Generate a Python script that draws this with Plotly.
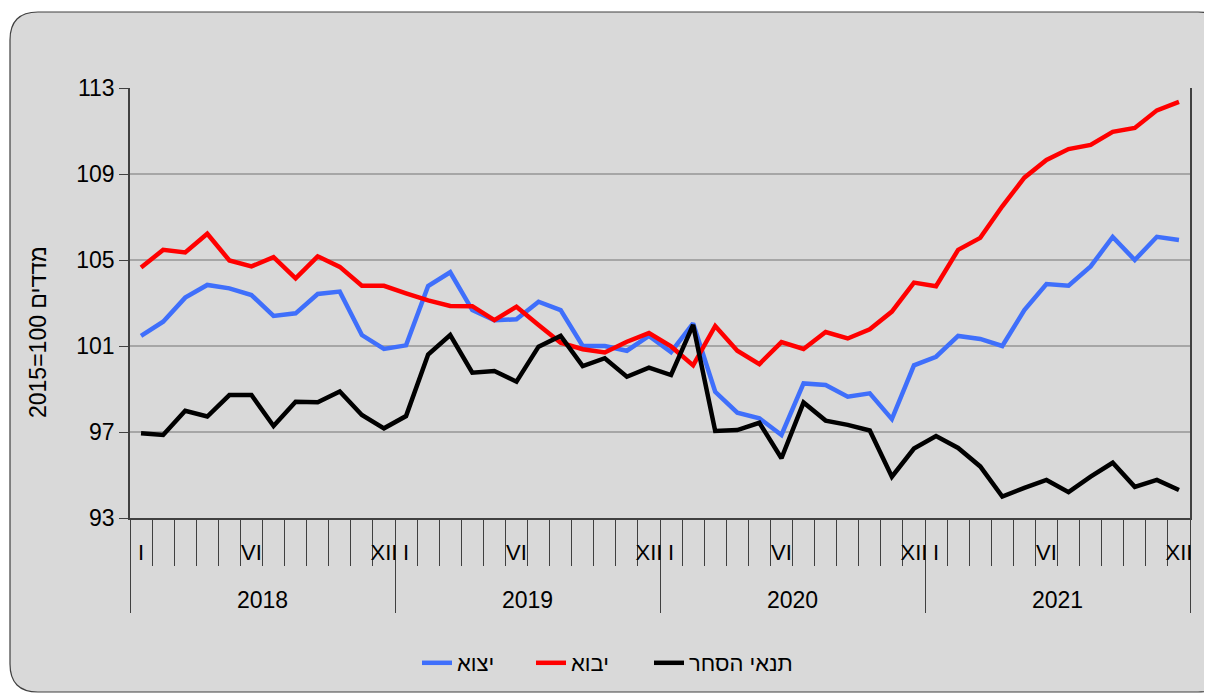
import plotly.graph_objects as go

years = ["2018", "2019", "2020", "2021"]
month_labels = ["I", "", "", "", "", "VI", "", "", "", "", "", "XII"]

exports = [101.47, 102.13, 103.25, 103.84, 103.68, 103.37, 102.40, 102.52, 103.42, 103.53, 101.51, 100.86,
           101.03, 103.79, 104.43, 102.67, 102.20, 102.24, 103.06, 102.67, 101.00, 101.00, 100.78, 101.47,
           100.72, 102.05, 98.87, 97.90, 97.64, 96.86, 99.26, 99.19, 98.64, 98.80, 97.60, 100.10,
           100.50, 101.47, 101.33, 101.00, 102.67, 103.88, 103.80, 104.70, 106.07, 105.00, 106.08, 105.93]
imports = [104.65, 105.47, 105.35, 106.22, 104.98, 104.70, 105.13, 104.15, 105.17, 104.68, 103.80, 103.80,
           103.45, 103.12, 102.86, 102.85, 102.20, 102.83, 101.98, 101.15, 100.85, 100.70, 101.20, 101.60,
           100.98, 100.10, 101.93, 100.78, 100.16, 101.18, 100.86, 101.65, 101.35, 101.78, 102.60, 103.95,
           103.78, 105.47, 106.03, 107.50, 108.83, 109.65, 110.16, 110.35, 110.96, 111.14, 111.96, 112.35]
terms = [96.94, 96.86, 97.99, 97.72, 98.72, 98.72, 97.28, 98.41, 98.38, 98.88, 97.79, 97.17,
         97.74, 100.60, 101.51, 99.76, 99.84, 99.34, 100.97, 101.47, 100.07, 100.43, 99.57, 99.99,
         99.65, 101.98, 97.05, 97.09, 97.43, 95.78, 98.37, 97.53, 97.33, 97.07, 94.92, 96.23,
         96.81, 96.26, 95.40, 94.00, 94.40, 94.77, 94.20, 94.92, 95.57, 94.45, 94.77, 94.30]

series_names = ["יצוא", "יבוא", "תנאי הסחר"]
series_colors = ["#3f6ffb", "#ff0000", "#000000"]
y_title = "2015=100 מדדים"
y_ticks = [93, 97, 101, 105, 109, 113]

n = len(exports)
x = list(range(n))
n_m = len(month_labels)

W, H = 1212, 695
OFF = 8  # page body offset
ml, mt = 130 - OFF, 88 - OFF
pw, ph = 1060, 430
mr, mb = W - ml - pw, H - mt - ph


def py(page_y):
    return (mt + ph - (page_y - OFF)) / ph


def px(page_x):
    return (page_x - OFF - ml) / pw


font = "Liberation Sans, Arial, sans-serif"
legend_ids = ["legend", "legend2", "legend3"]
legend_left = [417, 531, 649]

fig = go.Figure()
for vals, name, col, lid in zip([exports, imports, terms], series_names, series_colors, legend_ids):
    fig.add_trace(go.Scatter(x=x, y=vals, mode="lines", name=name, legend=lid,
                             line=dict(color=col, width=4.5)))

xr = [-0.5, n - 0.5]

month_bounds = [i - 0.5 for i in range(n + 1)]
year_bounds = [i * n_m - 0.5 for i in range(len(years) + 1)]
label_pos = [yi * n_m + mi for yi in range(len(years)) for mi in range(n_m) if month_labels[mi]]
label_txt = [month_labels[mi] for yi in range(len(years)) for mi in range(n_m) if month_labels[mi]]

legend_layout = {}
for lid, lx in zip(legend_ids, legend_left):
    legend_layout[lid] = dict(orientation="h", x=px(lx), xanchor="left", y=py(663), yanchor="middle",
                              font=dict(size=22, family=font), bgcolor="rgba(0,0,0,0)")

fig.update_layout(
    width=W, height=H,
    margin=dict(l=ml, r=mr, t=mt, b=mb, autoexpand=False),
    paper_bgcolor="white", plot_bgcolor="white",
    font=dict(family=font, color="#000000", size=21),
    showlegend=True,
    **legend_layout,
    xaxis=dict(range=xr, tickmode="array", tickvals=month_bounds, ticktext=["" for _ in month_bounds],
               ticks="outside", ticklen=46, tickwidth=1.2, tickcolor="#404040",
               showline=True, linecolor="#404040", linewidth=1.5, showgrid=False, zeroline=False),
    xaxis2=dict(range=xr, overlaying="x", side="bottom", tickmode="array", tickvals=year_bounds,
                ticktext=["" for _ in year_bounds], ticks="outside", ticklen=94, tickwidth=1.3,
                tickcolor="#404040", showgrid=False, zeroline=False, showline=False),
    xaxis3=dict(range=xr, overlaying="x", side="bottom", tickmode="array", tickvals=label_pos,
                ticktext=label_txt, ticks="outside", ticklen=15, tickcolor="rgba(0,0,0,0)",
                tickfont=dict(size=22, family=font, color="#000000"),
                showgrid=False, zeroline=False, showline=False),
    yaxis=dict(range=[93, 113], tickmode="array", tickvals=y_ticks, ticks="outside", ticklen=9,
               tickcolor="#404040", tickfont=dict(size=23, family=font),
               showline=True, linecolor="#404040", linewidth=1.5, mirror=True,
               showgrid=True, gridcolor="#a6a6a6", gridwidth=1.5, zeroline=False),
)

fig.add_trace(go.Scatter(x=[xr[0]], y=[93], xaxis="x2", mode="markers", marker=dict(opacity=0),
                         showlegend=False, hoverinfo="skip"))
fig.add_trace(go.Scatter(x=[xr[0]], y=[93], xaxis="x3", mode="markers", marker=dict(opacity=0),
                         showlegend=False, hoverinfo="skip"))

for i, yr in enumerate(years):
    fig.add_annotation(x=i * n_m + (n_m - 1) / 2, y=py(600), xref="x", yref="paper",
                       text=yr, showarrow=False, font=dict(size=23, family=font), yanchor="middle")

fig.add_annotation(x=px(38), y=py(332), xref="paper", yref="paper", text=y_title, textangle=-90,
                   showarrow=False, font=dict(size=23, family=font), xanchor="center", yanchor="middle")

x0, x1 = px(10), px(1226)
y0, y1 = py(692), py(12)
rx, ry = 28 / pw, 28 / ph
path = (f"M {x0 + rx} {y1} L {x1 - rx} {y1} Q {x1} {y1} {x1} {y1 - ry} "
        f"L {x1} {y0 + ry} Q {x1} {y0} {x1 - rx} {y0} L {x0 + rx} {y0} Q {x0} {y0} {x0} {y0 + ry} "
        f"L {x0} {y1 - ry} Q {x0} {y1} {x0 + rx} {y1} Z")
fig.add_shape(type="path", path=path, xref="paper", yref="paper", layer="below",
              fillcolor="#d9d9d9", line=dict(color="#404040", width=1.2))

fig.write_html("out.html")
